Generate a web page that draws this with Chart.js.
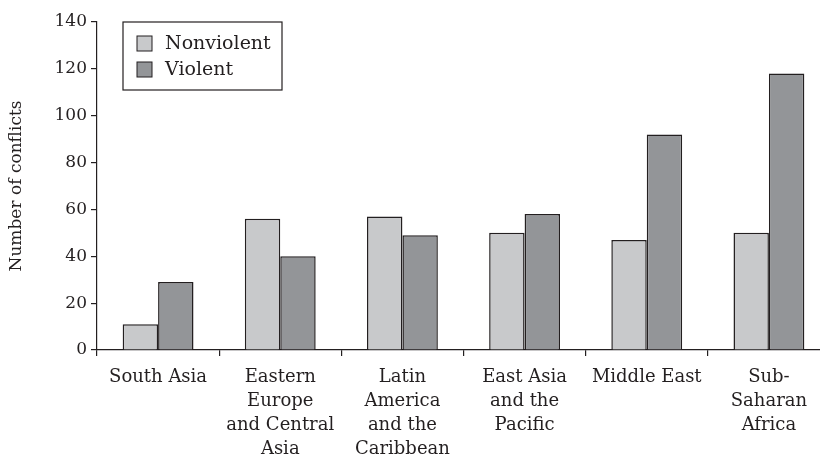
<!DOCTYPE html>
<html>
<head>
<meta charset="utf-8">
<script src="https://cdn.jsdelivr.net/npm/chart.js@4"></script>
<style>
  html, body { margin: 0; background: #fff; overflow: hidden; }
  #wrap { width: 820px; height: 461px; overflow: hidden; }
</style>
</head>
<body>
<div id="wrap"><canvas id="chart" width="830" height="461"></canvas></div>
<script>
const regions = [
  ['South Asia'],
  ['Eastern', 'Europe', 'and Central', 'Asia'],
  ['Latin', 'America', 'and the', 'Caribbean'],
  ['East Asia', 'and the', 'Pacific'],
  ['Middle East'],
  ['Sub-', 'Saharan', 'Africa']
];
const nonviolent = [11, 56, 57, 50, 47, 50];
const violent = [29, 40, 49, 58, 92, 118];
const yTicks = [0, 20, 40, 60, 80, 100, 120, 140];

const ink = '#231f20';
const serif = '"DejaVu Serif", "Liberation Serif", serif';

// boxed legend inside the plot, top left
const boxLegend = {
  id: 'boxLegend',
  afterDraw(chart) {
    const ctx = chart.ctx;
    const area = chart.chartArea;
    const x = area.left + 26, y = area.top;
    const w = 159, h = 68;
    ctx.save();
    ctx.fillStyle = '#fff';
    ctx.fillRect(x, y, w, h);
    ctx.strokeStyle = ink;
    ctx.lineWidth = 1.2;
    ctx.strokeRect(x, y, w, h);
    ctx.font = '19px ' + serif;
    ctx.textBaseline = 'middle';
    chart.data.datasets.forEach((ds, i) => {
      const sy = y + 14 + i * 26;
      ctx.fillStyle = ds.backgroundColor;
      ctx.fillRect(x + 14, sy, 15, 15);
      ctx.strokeStyle = ink;
      ctx.lineWidth = 1;
      ctx.strokeRect(x + 14, sy, 15, 15);
      ctx.fillStyle = ink;
      ctx.fillText(ds.label, x + 42, sy + 8);
    });
    ctx.restore();
  }
};

new Chart(document.getElementById('chart'), {
  type: 'bar',
  data: {
    labels: regions,
    datasets: [
      { label: 'Nonviolent', data: nonviolent, backgroundColor: '#c8c9cb', borderColor: ink, borderWidth: 1.5 },
      { label: 'Violent', data: violent, backgroundColor: '#939598', borderColor: ink, borderWidth: 1.5 }
    ]
  },
  options: {
    responsive: false,
    animation: false,
    layout: { padding: { top: 22, right: 0, left: 0, bottom: 0 } },
    datasets: { bar: { categoryPercentage: 0.58, barPercentage: 1 } },
    plugins: {
      legend: { display: false },
      tooltip: { enabled: false }
    },
    scales: {
      x: {
        offset: true,
        afterFit: axis => { axis.height = 111; },
        grid: { offset: true, drawOnChartArea: false, color: ink, tickLength: 6, lineWidth: 1.2 },
        border: { color: ink, width: 1.2 },
        ticks: { color: ink, font: { family: serif, size: 18, lineHeight: '24px' }, maxRotation: 0, autoSkip: false, padding: 9 }
      },
      y: {
        min: 0,
        max: 140,
        afterBuildTicks: axis => { axis.ticks = yTicks.map(v => ({ value: v })); },
        afterFit: axis => { axis.width = 97; },
        grid: { drawOnChartArea: false, color: ink, tickLength: 6, lineWidth: 1.2 },
        border: { color: ink, width: 1.2 },
        ticks: { color: ink, font: { family: serif, size: 17 }, padding: 4 },
        title: { display: true, text: 'Number of conflicts', color: ink, font: { family: serif, size: 17 }, padding: { top: 6, bottom: 0 } }
      }
    }
  },
  plugins: [boxLegend]
});
</script>
</body>
</html>
